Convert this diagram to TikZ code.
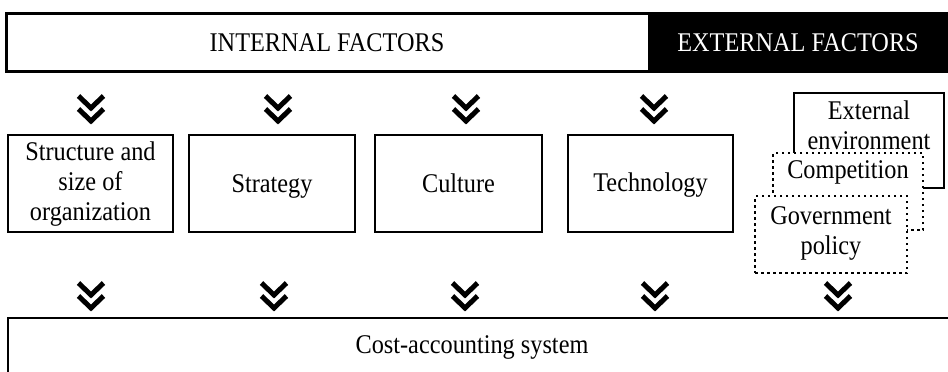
\documentclass[tikz,border=0pt]{standalone}
\usepackage{fontspec}
\setmainfont{Liberation Serif}[FakeStretch=0.9]
\begin{document}
\begin{tikzpicture}[x=1pt,y=-1pt,
  box/.style={draw,line width=2.5pt,fill=white,inner sep=0pt},
  dotbox/.style={draw,line width=2.5pt,dash pattern=on 2.5pt off 3.5pt,fill=white,inner sep=0pt},
  lbl/.style={font=\fontsize{27}{30}\selectfont,align=center,inner sep=0pt,anchor=base},
  chev/.pic={\draw[line width=5pt,miter limit=10] (-12.5,3)--(0,15)--(12.5,3) (-12.5,16)--(0,28)--(12.5,16);}
]
\useasboundingbox (0,0) rectangle (948,372);
\fill[white] (0,0) rectangle (948,372);
% top bar
\node[box,minimum width=643pt,minimum height=58pt,anchor=north west] (internal) at (5,12) {};
\node[lbl] (internaltxt) at (327,51) {INTERNAL FACTORS};
\node[draw=black,fill=black,line width=2.5pt,minimum width=302pt,minimum height=58pt,anchor=north west,inner sep=0pt] (external) at (648,12) {};
\node[lbl,text=white] (externaltxt) at (798,51) {EXTERNAL FACTORS};
% internal factor boxes
\node[box,minimum width=165pt,minimum height=97pt] (s1) at (90.5,183.5) {};
\node[lbl] (s1txt) at (90.5,220) {Structure and\\size of\\organization};
\node[box,minimum width=166pt,minimum height=97pt] (s2) at (272,183.5) {};
\node[lbl] (s2txt) at (272,192) {Strategy};
\node[box,minimum width=167pt,minimum height=97pt] (s3) at (458.5,183.5) {};
\node[lbl] (s3txt) at (458.5,192) {Culture};
\node[box,minimum width=165pt,minimum height=97pt] (s4) at (650.5,183.5) {};
\node[lbl] (s4txt) at (650.5,191) {Technology};
% external factor boxes
\node[box,minimum width=150pt,minimum height=95pt] (env) at (869,140.5) {};
\node[lbl] (envtxt) at (869,149) {External\\environment};
\node[dotbox,minimum width=150pt,minimum height=77pt] (comp) at (848,191.5) {};
\node[lbl] (comptxt) at (848,178) {Competition};
\node[dotbox,minimum width=152pt,minimum height=77pt] (gov) at (831,234.5) {};
\node[lbl] (govtxt) at (831,254) {Government\\policy};
% bottom box
\draw[line width=2.5pt] (8,380) -- (8,318) -- (960,318);
\node[lbl] (cost) at (472,353) {Cost-accounting system};
% chevrons
\foreach \x in {91,278,466,654} \pic at (\x,93) {chev};
\foreach \x in {91,274,465,655,838} \pic at (\x,280) {chev};
\end{tikzpicture}
\end{document}
